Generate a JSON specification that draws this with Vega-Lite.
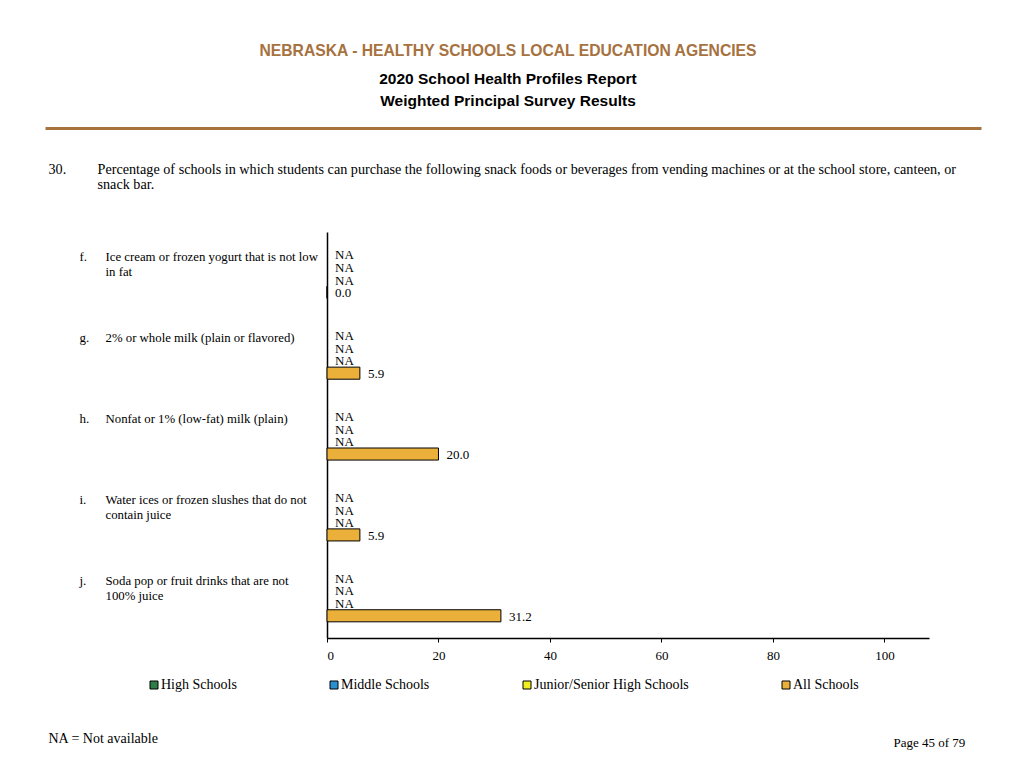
{
  "$schema": "https://vega.github.io/schema/vega-lite/v6.json",
  "width": 602,
  "height": 406,
  "autosize": {"type": "none"},
  "padding": {"left": 327, "top": 232, "right": 95, "bottom": 130},
  "background": "white",
  "config": {
    "view": {"stroke": null},
    "axis": {"grid": false}
  },
  "title": {
    "text": "NEBRASKA - HEALTHY SCHOOLS LOCAL EDUCATION AGENCIES",
    "subtitle": ["2020 School Health Profiles Report", "Weighted Principal Survey Results"],
    "anchor": "middle",
    "frame": "group",
    "dx": -120,
    "offset": 18,
    "font": "Liberation Sans",
    "fontSize": 15.7,
    "fontWeight": "bold",
    "color": "#a67240",
    "subtitleFont": "Liberation Sans",
    "subtitleFontSize": 15.5,
    "subtitleFontWeight": "bold",
    "subtitleColor": "black",
    "subtitleLineHeight": 22,
    "subtitlePadding": 12
  },
  "datasets": {
    "rows": [
      {"item": "f.|Ice cream or frozen yogurt that is not low|in fat", "school": "High Schools", "value": null},
      {"item": "f.|Ice cream or frozen yogurt that is not low|in fat", "school": "Middle Schools", "value": null},
      {"item": "f.|Ice cream or frozen yogurt that is not low|in fat", "school": "Junior/Senior High Schools", "value": null},
      {"item": "f.|Ice cream or frozen yogurt that is not low|in fat", "school": "All Schools", "value": 0.0},
      {"item": "g.|2% or whole milk (plain or flavored)", "school": "High Schools", "value": null},
      {"item": "g.|2% or whole milk (plain or flavored)", "school": "Middle Schools", "value": null},
      {"item": "g.|2% or whole milk (plain or flavored)", "school": "Junior/Senior High Schools", "value": null},
      {"item": "g.|2% or whole milk (plain or flavored)", "school": "All Schools", "value": 5.9},
      {"item": "h.|Nonfat or 1% (low-fat) milk (plain)", "school": "High Schools", "value": null},
      {"item": "h.|Nonfat or 1% (low-fat) milk (plain)", "school": "Middle Schools", "value": null},
      {"item": "h.|Nonfat or 1% (low-fat) milk (plain)", "school": "Junior/Senior High Schools", "value": null},
      {"item": "h.|Nonfat or 1% (low-fat) milk (plain)", "school": "All Schools", "value": 20.0},
      {"item": "i.|Water ices or frozen slushes that do not|contain juice", "school": "High Schools", "value": null},
      {"item": "i.|Water ices or frozen slushes that do not|contain juice", "school": "Middle Schools", "value": null},
      {"item": "i.|Water ices or frozen slushes that do not|contain juice", "school": "Junior/Senior High Schools", "value": null},
      {"item": "i.|Water ices or frozen slushes that do not|contain juice", "school": "All Schools", "value": 5.9},
      {"item": "j.|Soda pop or fruit drinks that are not|100% juice", "school": "High Schools", "value": null},
      {"item": "j.|Soda pop or fruit drinks that are not|100% juice", "school": "Middle Schools", "value": null},
      {"item": "j.|Soda pop or fruit drinks that are not|100% juice", "school": "Junior/Senior High Schools", "value": null},
      {"item": "j.|Soda pop or fruit drinks that are not|100% juice", "school": "All Schools", "value": 31.2}
    ],
    "edge": [{"edge": 0}, {"edge": 1}]
  },
  "layer": [
    {
      "data": {"name": "rows"},
      "mark": {"type": "bar", "stroke": "black", "strokeWidth": 1},
      "encoding": {
        "y": {
          "field": "item", "type": "nominal", "sort": null,
          "scale": {"paddingInner": 0.38, "paddingOuter": 0.2},
          "axis": {
            "orient": "left",
            "domain": true, "domainColor": "black", "domainWidth": 1.5,
            "ticks": false, "tickSize": 0,
            "labelPadding": 222, "labelAlign": "left", "labelBaseline": "top",
            "labelOffset": -22, "labelLineHeight": 15,
            "labelFont": "Liberation Serif", "labelFontSize": 12.8, "labelColor": "black", "labelLimit": 400,
            "labelExpr": "slice(split(datum.value, '|'), 1)",
            "title": ["Percentage of schools in which students can purchase the following snack foods or beverages from vending machines or at the school store, canteen, or", "snack bar."],
            "titleX": -230, "titleY": -70, "titleAngle": 0, "titleAlign": "left", "titleBaseline": "top",
            "titleFont": "Liberation Serif", "titleFontSize": 14.2, "titleFontWeight": "normal", "titleColor": "black", "titleLineHeight": 15, "titleLimit": 0
          }
        },
        "yOffset": {
          "field": "school", "type": "nominal",
          "sort": ["High Schools", "Middle Schools", "Junior/Senior High Schools", "All Schools"],
          "scale": {"paddingInner": 0.05, "paddingOuter": 0}
        },
        "x": {
          "field": "value", "type": "quantitative",
          "scale": {"domain": [0, 108], "nice": false},
          "axis": {
            "values": [0, 20, 40, 60, 80, 100],
            "domainColor": "black", "domainWidth": 1.5,
            "tickColor": "black", "tickSize": 4,
            "labelPadding": 7, "labelFont": "Liberation Serif", "labelFontSize": 13, "labelColor": "black",
            "title": "NA = Not available",
            "titleX": -279, "titleY": 100, "titleAlign": "left", "titleBaseline": "middle", "titleAnchor": null,
            "titleFont": "Liberation Serif", "titleFontSize": 14, "titleFontWeight": "normal", "titleColor": "black"
          }
        },
        "color": {
          "field": "school", "type": "nominal",
          "scale": {
            "domain": ["High Schools", "Middle Schools", "Junior/Senior High Schools", "All Schools"],
            "range": ["#2e7d46", "#2a90d0", "#f0f020", "#ebb03a"]
          },
          "legend": {
            "orient": "none", "legendX": -180, "legendY": 446, "direction": "horizontal",
            "title": null, "symbolType": "square", "symbolSize": 64,
            "symbolStrokeColor": "black", "symbolStrokeWidth": 1, "symbolOpacity": 1,
            "labelFont": "Liberation Serif", "labelFontSize": 14, "labelColor": "black",
            "labelOffset": 0, "columnPadding": 90
          }
        }
      }
    },
    {
      "data": {"name": "rows"},
      "transform": [
        {"calculate": "datum.value == null ? 'NA' : format(datum.value, '.1f')", "as": "label"},
        {"calculate": "datum.value == null ? 0 : datum.value", "as": "pos"}
      ],
      "mark": {"type": "text", "align": "left", "baseline": "middle", "dx": 8, "dy": 1, "font": "Liberation Serif", "fontSize": 13, "color": "black"},
      "encoding": {
        "y": {
          "field": "item", "type": "nominal", "sort": null,
          "axis": {
            "orient": "left", "domain": false, "ticks": false, "tickSize": 0,
            "labelPadding": 248, "labelAlign": "left", "labelBaseline": "top", "labelOffset": -22,
            "labelFont": "Liberation Serif", "labelFontSize": 13, "labelColor": "black",
            "labelExpr": "split(datum.value, '|')[0]",
            "title": "30.",
            "titleX": -279, "titleY": -70, "titleAngle": 0, "titleAlign": "left", "titleBaseline": "top",
            "titleFont": "Liberation Serif", "titleFontSize": 14.2, "titleFontWeight": "normal", "titleColor": "black"
          }
        },
        "yOffset": {
          "field": "school", "type": "nominal",
          "sort": ["High Schools", "Middle Schools", "Junior/Senior High Schools", "All Schools"]
        },
        "x": {
          "field": "pos", "type": "quantitative",
          "scale": {"domain": [0, 108], "nice": false},
          "axis": null
        },
        "text": {"field": "label"}
      }
    },
    {
      "data": {"name": "edge"},
      "mark": {"type": "rule", "opacity": 0},
      "encoding": {
        "x": {
          "field": "edge", "type": "quantitative",
          "scale": {"domain": [0, 1], "range": [-282, 654], "nice": false, "zero": false},
          "axis": {
            "orient": "top", "offset": 104,
            "domain": true, "domainColor": "#a67240", "domainWidth": 3,
            "ticks": false, "labels": false, "grid": false,
            "title": "Page 45 of 79",
            "titleX": 566, "titleY": 614, "titleAngle": 0, "titleAlign": "left", "titleBaseline": "middle", "titleAnchor": null,
            "titleFont": "Liberation Serif", "titleFontSize": 13, "titleFontWeight": "normal", "titleColor": "black"
          }
        }
      }
    }
  ],
  "resolve": {
    "scale": {"x": "independent"},
    "axis": {"x": "independent", "y": "independent"}
  }
}
